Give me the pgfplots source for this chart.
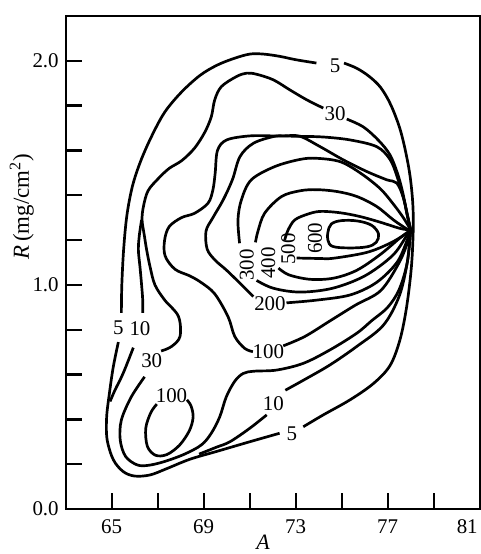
\documentclass[border=0pt]{standalone}
\usepackage{fontspec}
\setmainfont{Liberation Serif}
\usepackage{pgfplots}
\pgfplotsset{compat=1.18}
\tikzset{
  cl/.style={black, line width=1.35pt, smooth, tension=0.55},
  lab/.style={font=\fontsize{10.5}{12}\selectfont, inner sep=0pt},
}
\begin{document}
\begin{tikzpicture}
\begin{axis}[
  scale only axis, width=207bp, height=246.5bp,
  xmin=63, xmax=81, ymin=0, ymax=2.2,
  axis line style={line width=1pt},
  tick pos=left, tick align=inside,
  major tick length=8bp,
  every tick/.style={black, line width=1.2pt},
  xtick={65,67,69,71,73,75,77,79,81},
  xticklabels={65,,69,,73,,77,,\makebox[0pt][r]{81\hspace{1bp}}},
  ytick={0,0.2,0.4,0.6,0.8,1,1.2,1.4,1.6,1.8,2},
  yticklabels={0.0,,,,,1.0,,,,,2.0},
  ticklabel style={font=\fontsize{10.5}{12}\selectfont},
  xticklabel style={yshift=-2bp},
  xlabel={\textit{A}},
  xlabel style={at={(rel axis cs:0.477,-0.068)}, anchor=center, font=\fontsize{11}{12}\selectfont},
  ylabel={\textit{R}\,(mg/cm\textsuperscript{2})},
  ylabel style={at={(rel axis cs:-0.106,0.613)}, anchor=center, font=\fontsize{11.5}{13}\selectfont},
]
% contour 5
\addplot[cl] coordinates {(73.9,1.99) (73.0,2.005) (72.3,2.02) (71.6,2.03) (71.0,2.03) (70.3,2.01) (69.57,1.98) (68.84,1.935) (68.03,1.86) (67.3,1.77) (66.72,1.66) (66.25,1.55) (65.9,1.44) (65.66,1.31) (65.52,1.16) (65.44,1.0) (65.42,0.875)};
\addplot[cl] coordinates {(65.29,0.745) (65.07,0.635) (64.9,0.516) (64.78,0.41) (64.8,0.31) (65.07,0.22) (65.5,0.167) (66.0,0.147) (66.67,0.152) (67.39,0.18) (68.4,0.222) (69.6,0.258) (71.0,0.30) (72.3,0.338)};
\addplot[cl] coordinates {(73.33,0.367) (74.2,0.42) (75.36,0.487) (76.38,0.56) (77.1,0.64) (77.53,0.754) (77.82,0.9) (78.03,1.08) (78.11,1.25) (78.08,1.38) (77.92,1.52) (77.58,1.68) (77.15,1.80) (76.7,1.88) (76.2,1.93) (75.65,1.967) (75.1,1.99)};
% contour 10
\addplot[cl] coordinates {(66.3,1.29) (66.2,1.22) (66.16,1.156) (66.23,1.08) (66.3,1.0) (66.35,0.93) (66.35,0.875)};
\addplot[cl] coordinates {(65.94,0.72) (65.5,0.606) (65.14,0.53) (64.93,0.48)};
\addplot[cl] coordinates {(68.8,0.245) (69.56,0.276) (70.14,0.30) (71.0,0.36) (71.74,0.42)};
\addplot[cl] coordinates {(72.55,0.53) (73.48,0.583) (74.49,0.643) (75.65,0.725) (76.81,0.82) (77.5,0.95) (77.85,1.1) (78.0,1.245)};
% contour 30
\addplot[cl] coordinates {(78.0,1.245) (77.85,1.10) (77.5,0.98) (77.0,0.9) (76.3,0.84) (75.65,0.784) (74.49,0.71) (73.33,0.65) (72.17,0.62) (71.2,0.615) (70.72,0.605) (70.35,0.57) (69.98,0.50) (69.7,0.412) (69.33,0.338) (68.9,0.286) (68.17,0.245) (67.3,0.212) (66.6,0.195) (66.1,0.197) (65.6,0.235) (65.37,0.308) (65.42,0.397) (65.85,0.50) (66.43,0.59)};
\addplot[cl] coordinates {(67.15,0.705) (67.6,0.725) (67.97,0.77) (67.9,0.86) (67.3,0.933) (66.88,1.0) (66.67,1.08) (66.52,1.156) (66.42,1.22) (66.32,1.29) (66.38,1.35) (66.58,1.42) (67.03,1.475) (67.5,1.52) (68.05,1.555) (68.6,1.61) (69.04,1.68) (69.33,1.75) (69.48,1.826) (69.77,1.885) (70.43,1.93) (70.87,1.945) (71.3,1.94) (72.03,1.915) (72.75,1.87) (73.48,1.826) (74.2,1.789)};
\addplot[cl] coordinates {(75.22,1.74) (75.94,1.705) (76.6,1.645) (77.1,1.58) (77.45,1.49) (77.68,1.40) (77.85,1.31) (78.0,1.245)};
% contour 100
\addplot[cl] coordinates {(78.0,1.245) (77.88,1.30) (77.68,1.39) (77.42,1.48) (77.1,1.56) (76.52,1.617) (75.36,1.647) (74.2,1.66) (73.19,1.663) (72.0,1.665) (71.0,1.665) (70.0,1.647) (69.6,1.60) (69.5,1.50) (69.4,1.424) (69.19,1.365) (68.61,1.32) (68.03,1.30) (67.5,1.26) (67.3,1.20) (67.32,1.13) (67.75,1.07) (68.4,1.04) (68.9,1.01) (69.48,0.96) (70.06,0.858) (70.35,0.77) (70.78,0.717) (71.14,0.702)};
\addplot[cl] coordinates {(72.46,0.728) (73.4,0.77) (74.5,0.84) (75.6,0.91) (76.7,0.975) (77.5,1.1) (77.9,1.2) (78.0,1.245)};
\addplot[cl] coordinates {(66.96,0.468) (66.7,0.43) (66.48,0.36) (66.55,0.28) (66.9,0.24) (67.4,0.243) (67.95,0.285) (68.38,0.35) (68.54,0.41) (68.45,0.46) (68.27,0.487)};
% contour 200
\addplot[cl] coordinates {(78.0,1.245) (77.88,1.30) (77.68,1.39) (77.39,1.455) (76.96,1.469) (76.09,1.506) (75.07,1.558) (74.06,1.617) (73.19,1.663) (72.5,1.665) (72.03,1.662) (71.16,1.632) (70.58,1.573) (70.25,1.47) (69.85,1.38) (69.4,1.30) (69.1,1.24) (69.15,1.16) (69.5,1.11) (70.0,1.065) (70.72,0.993) (71.16,0.948)};
\addplot[cl] coordinates {(72.6,0.92) (73.9,0.932) (75.36,0.955) (76.5,1.01) (77.4,1.10) (77.85,1.2) (78.0,1.245)};
% contour 300
\addplot[cl] coordinates {(70.56,1.186) (70.49,1.29) (70.64,1.38) (71.07,1.469) (72.09,1.528) (73.19,1.56) (73.91,1.565) (74.93,1.55) (75.8,1.50) (76.67,1.43) (77.25,1.36) (77.68,1.30) (78.0,1.245)};
\addplot[cl] coordinates {(71.3,1.02) (72.03,0.985) (73.19,0.968) (74.6,0.985) (76.0,1.04) (77.2,1.13) (77.8,1.215) (78.0,1.245)};
% contour 400
\addplot[cl] coordinates {(71.25,1.19) (71.36,1.24) (71.65,1.32) (72.38,1.394) (73.19,1.42) (73.91,1.425) (74.78,1.417) (75.65,1.395) (76.52,1.35) (77.25,1.29) (77.83,1.25) (78.0,1.245)};
\addplot[cl] coordinates {(72.25,1.075) (72.7,1.045) (73.62,1.025) (74.64,1.03) (75.65,1.065) (76.67,1.135) (77.54,1.21) (78.0,1.245)};
% contour 500
\addplot[cl] coordinates {(72.52,1.20) (72.67,1.245) (72.96,1.29) (73.5,1.315) (74.06,1.328) (74.93,1.322) (75.8,1.305) (76.67,1.28) (77.54,1.252) (78.0,1.245)};
\addplot[cl] coordinates {(73.04,1.12) (74.0,1.118) (74.64,1.119) (76.09,1.145) (77.1,1.186) (77.83,1.23) (78.0,1.245)};
% contour 600
\addplot[black, line width=1.35pt, smooth cycle, tension=0.6] coordinates {(74.4,1.235) (74.55,1.272) (75.0,1.287) (75.7,1.285) (76.3,1.266) (76.6,1.228) (76.5,1.19) (76.1,1.17) (75.3,1.165) (74.6,1.172) (74.4,1.2)};
% labels
\node[lab] at (axis cs:74.71,1.98) {5};
\node[lab] at (axis cs:74.71,1.766) {30};
\node[lab] at (axis cs:65.29,0.81) {5};
\node[lab] at (axis cs:66.23,0.807) {10};
\node[lab] at (axis cs:66.74,0.66) {30};
\node[lab] at (axis cs:67.6,0.505) {100};
\node[lab] at (axis cs:72.03,0.47) {10};
\node[lab] at (axis cs:72.83,0.335) {5};
\node[lab] at (axis cs:71.81,0.70) {100};
\node[lab] at (axis cs:71.88,0.915) {200};
\node[lab, rotate=90] at (axis cs:70.87,1.089) {300};
\node[lab, rotate=90] at (axis cs:71.81,1.097) {400};
\node[lab, rotate=90] at (axis cs:72.68,1.16) {500};
\node[lab, rotate=90] at (axis cs:73.84,1.208) {600};
\end{axis}
\pgfresetboundingbox
\path[use as bounding box] ([shift={(-32.85bp,-22.5bp)}]current axis.south west) rectangle ([shift={(0.65bp,8bp)}]current axis.north east);
\end{tikzpicture}
\end{document}
